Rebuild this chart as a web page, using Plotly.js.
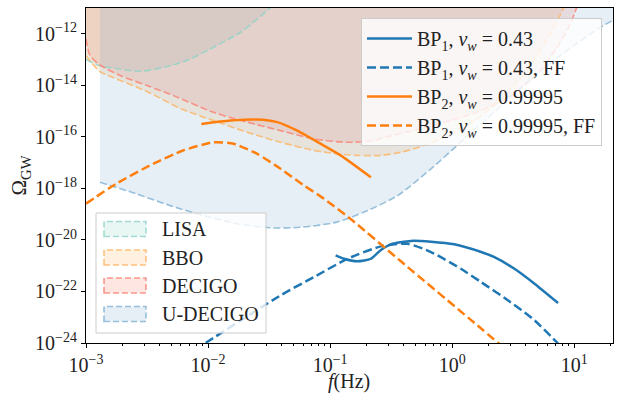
<!DOCTYPE html>
<html>
<head>
<meta charset="utf-8">
<script src="https://cdn.plot.ly/plotly-3.0.1.min.js"></script>
<style>html,body{margin:0;padding:0;background:#fff}#chart{width:620px;height:395px}</style>
</head>
<body>
<div id="chart"></div>
<script>
// ---- Benchmark-point spectra (frequency in Hz, Omega_GW) ----
const bp1_f   = [0.111, 0.130, 0.167, 0.216, 0.261, 0.315, 0.459, 0.671, 1.04, 1.73, 2.22, 3.24, 4.73, 7.38];
const bp1_om  = [2.51e-21, 1.86e-21, 1.48e-21, 1.86e-21, 4.07e-21, 6.76e-21, 9.12e-21, 8.51e-21, 6.76e-21, 3.39e-21, 2.14e-21, 7.59e-22, 2.00e-22, 3.55e-23];
const bp1ff_f = [6.31e-3, 9.82e-3, 3.93e-2, 7.38e-2, 0.139, 0.261, 0.432, 0.671, 1.18, 1.73, 2.86, 4.73, 7.38];
const bp1ff_om= [2.9e-25, 1.10e-24, 7.08e-23, 3.63e-22, 1.86e-21, 5.62e-21, 7.08e-21, 3.39e-21, 7.59e-22, 2.29e-22, 4.57e-23, 7.59e-24, 9.55e-25];
const bp2_f   = [8.81e-3, 1.52e-2, 2.53e-2, 3.69e-2, 5.38e-2, 8.38e-2, 0.122, 0.216];
const bp2_om  = [3.16e-16, 4.27e-16, 4.68e-16, 3.72e-16, 1.74e-16, 5.37e-17, 1.91e-17, 2.69e-18];
const bp2ff_f = [1.0e-3, 1.77e-3, 3.53e-3, 6.24e-3, 1.11e-2, 1.62e-2, 2.53e-2, 3.93e-2, 6.11e-2, 8.91e-2, 0.152, 0.380, 1.73, 3.98];
const bp2ff_om= [2.57e-19, 1.51e-18, 8.91e-18, 2.95e-17, 6.17e-17, 5.37e-17, 2.19e-17, 5.75e-18, 1.29e-18, 3.98e-19, 5.75e-20, 1.48e-21, 3.63e-24, 1.26e-25];

// ---- Detector sensitivity curves ----
const lisa_f   = [1.0e-3, 1.30e-3, 1.90e-3, 2.78e-3, 4.90e-3, 7.16e-3, 1.04e-2, 1.84e-2, 3.05e-2, 3.37e-2];
const lisa_om  = [1.0e-13, 5.75e-14, 4.27e-14, 3.47e-14, 5.75e-14, 1.05e-13, 2.57e-13, 1.12e-12, 7.94e-12, 1.23e-11];
const bbo_f    = [1.0e-3, 1.30e-3, 1.67e-3, 3.16e-3, 5.92e-3, 1.11e-2, 2.09e-2, 3.93e-2, 7.38e-2, 0.115, 0.167, 0.261, 0.380, 0.587, 0.98, 1.57, 2.52, 4.21, 5.92, 7.28, 8.15, 8.71];
const bbo_om   = [1.41e-13, 3.39e-14, 2.00e-14, 5.75e-15, 1.26e-15, 4.27e-16, 1.51e-16, 6.17e-17, 2.95e-17, 2.19e-17, 1.91e-17, 1.91e-17, 2.51e-17, 4.57e-17, 1.23e-16, 4.68e-16, 2.82e-15, 4.47e-14, 5.37e-13, 3.24e-12, 9.33e-12, 2.0e-11];
const decigo_f = [1.0e-3, 1.08e-3, 1.30e-3, 1.90e-3, 3.16e-3, 5.21e-3, 1.11e-2, 2.09e-2, 3.93e-2, 7.38e-2, 0.134, 0.216, 0.275, 0.555, 0.98, 1.73, 3.05, 4.89, 7.14, 9.14, 10.4, 11.0];
const decigo_om= [6.31e-13, 1.41e-13, 6.17e-14, 2.40e-14, 9.77e-15, 3.98e-15, 8.91e-16, 3.72e-16, 1.74e-16, 8.32e-17, 6.17e-17, 6.92e-17, 9.33e-17, 2.09e-16, 4.27e-16, 1.05e-15, 3.98e-15, 2.57e-14, 2.63e-13, 2.04e-12, 9.33e-12, 2.0e-11];
const udecigo_f = [1.30e-3, 2.58e-3, 4.83e-3, 9.10e-3, 1.71e-2, 3.21e-2, 6.04e-2, 0.113, 0.190, 0.357, 0.671, 1.26, 2.37, 4.45, 8.36, 15.7, 21.4, 28.2];
const udecigo_om= [1.74e-18, 6.17e-19, 2.19e-19, 8.91e-20, 4.27e-20, 2.95e-20, 3.16e-20, 4.90e-20, 1.20e-19, 5.25e-19, 5.75e-18, 8.32e-17, 1.23e-15, 1.78e-14, 1.91e-13, 1.55e-12, 3.72e-12, 1.0e-11];

const bpNames   = ['BP<sub>1</sub>, <i>v</i><sub><i>w</i></sub> = 0.43',
                   'BP<sub>1</sub>, <i>v</i><sub><i>w</i></sub> = 0.43, FF',
                   'BP<sub>2</sub>, <i>v</i><sub><i>w</i></sub> = 0.99995',
                   'BP<sub>2</sub>, <i>v</i><sub><i>w</i></sub> = 0.99995, FF'];
const sensNames = ['LISA', 'BBO', 'DECIGO', 'U-DECIGO'];
const xTitle = '<i>f</i>(Hz)';
const yTitle = 'Ω<sub>GW</sub>';
const xTickVals = [1e-3, 1e-2, 1e-1, 1, 10];
const xTickText = ['10<sup>−3</sup>', '10<sup>−2</sup>', '10<sup>−1</sup>', '10<sup>0</sup>', '10<sup>1</sup>'];
const yTickVals = [1e-24, 1e-22, 1e-20, 1e-18, 1e-16, 1e-14, 1e-12];
const yTickText = ['10<sup>−24</sup>', '10<sup>−22</sup>', '10<sup>−20</sup>', '10<sup>−18</sup>', '10<sup>−16</sup>', '10<sup>−14</sup>', '10<sup>−12</sup>'];

// ---- styling ----
const FONT = 'Liberation Serif, DejaVu Serif, serif';
const sensColors = ['141,211,199', '253,180,98', '251,128,114', '128,177,211'];
const blue = '#1f77b4', orange = '#ff7f0e';
const X_RANGE = [-3, 1.318], Y_RANGE = [-24, -11.0];
const FILL_TOP = 1e-8; // closes fill polygons well above the visible area

const traces = [];
const sens = [[lisa_f, lisa_om], [bbo_f, bbo_om], [decigo_f, decigo_om], [udecigo_f, udecigo_om]];
sens.forEach(([f, om], i) => {
  traces.push({
    x: f.concat([f[f.length - 1], f[0]]),
    y: om.concat([FILL_TOP, FILL_TOP]),
    mode: 'lines', fill: 'toself', line: {width: 0, color: 'rgba(0,0,0,0)', shape: 'spline', smoothing: 0.7},
    fillcolor: 'rgba(' + sensColors[i] + ',0.2)', showlegend: false, hoverinfo: 'skip'
  });
});
sens.forEach(([f, om], i) => {
  traces.push({
    x: f, y: om, mode: 'lines', showlegend: false, name: sensNames[i],
    line: {color: 'rgba(' + sensColors[i] + ',0.8)', width: 1.6, dash: '7px,3px', shape: 'spline', smoothing: 0.7}
  });
});
const bps = [[bp1_f, bp1_om, blue, 'solid'], [bp1ff_f, bp1ff_om, blue, '9px,4px'],
             [bp2_f, bp2_om, orange, 'solid'], [bp2ff_f, bp2ff_om, orange, '9px,4px']];
bps.forEach(([f, om, c, d], i) => {
  traces.push({x: f, y: om, mode: 'lines', name: bpNames[i],
               line: {color: c, width: 2.5, dash: d, shape: 'spline', smoothing: 0.6}});
});

// minor x ticks
const minorX = [];
for (let e = -3; e <= 1; e++) for (let m = 2; m <= 9; m++) minorX.push(m * Math.pow(10, e));

// plot area in pixels (for positioning the detector legend)
const PL = 86, PR = 613, PT = 8, PB = 343;
const px = v => (v - PL) / (PR - PL);
const py = v => (PB - v) / (PB - PT);

const shapes = [{
  type: 'rect', xref: 'paper', yref: 'paper', layer: 'above',
  x0: px(96), x1: px(266), y0: py(333), y1: py(213),
  fillcolor: 'rgba(255,255,255,0.8)', line: {color: 'rgba(204,204,204,1)', width: 1}
}];
const annotations = [{
  xref: 'paper', yref: 'paper', x: px(349), y: py(395), xanchor: 'center', yanchor: 'bottom',
  text: xTitle, showarrow: false, font: {family: FONT, size: 20, color: '#222'}
}];
const legRows = [229, 257.5, 285.5, 314];
sensNames.forEach((n, i) => {
  shapes.push({
    type: 'rect', xref: 'paper', yref: 'paper', layer: 'above',
    x0: px(104), x1: px(146), y0: py(legRows[i] + 7.5), y1: py(legRows[i] - 7.5),
    fillcolor: 'rgba(' + sensColors[i] + ',0.2)',
    line: {color: 'rgba(' + sensColors[i] + ',0.8)', width: 1.6, dash: '6px,3px'}
  });
  annotations.push({
    xref: 'paper', yref: 'paper', x: px(160), y: py(legRows[i]), xanchor: 'left', yanchor: 'middle',
    text: n, showarrow: false, font: {family: FONT, size: 20, color: '#222'}
  });
});

const axisCommon = {
  type: 'log', showgrid: false, zeroline: false, showline: true, linecolor: 'black', linewidth: 1,
  mirror: true, ticks: 'outside', ticklen: 4, tickwidth: 1, tickcolor: 'black',
  tickmode: 'array', tickfont: {family: FONT, size: 20, color: '#222'}
};
const layout = {
  width: 620, height: 395,
  margin: {l: PL, r: 620 - PR, t: PT, b: 395 - PB},
  paper_bgcolor: 'white', plot_bgcolor: 'white',
  font: {family: FONT, color: '#222'},
  xaxis: Object.assign({}, axisCommon, {
    range: X_RANGE, tickvals: xTickVals, ticktext: xTickText,
    minor: {tickmode: 'array', tickvals: minorX, ticks: 'outside', ticklen: 2, tickcolor: 'black', showgrid: false}
  }),
  yaxis: Object.assign({}, axisCommon, {
    range: Y_RANGE, tickvals: yTickVals, ticktext: yTickText,
    title: {text: yTitle, font: {family: FONT, size: 21, color: '#222'}, standoff: 2}
  }),
  showlegend: true,
  legend: {
    x: px(602), xanchor: 'right', y: py(18), yanchor: 'top',
    bgcolor: 'rgba(255,255,255,0.8)', bordercolor: 'rgba(204,204,204,1)', borderwidth: 1,
    itemwidth: 45,
    font: {family: FONT, size: 20, color: '#222'}
  },
  shapes: shapes, annotations: annotations
};
Plotly.newPlot('chart', traces, layout, {displayModeBar: false, staticPlot: true});
</script>
</body>
</html>
